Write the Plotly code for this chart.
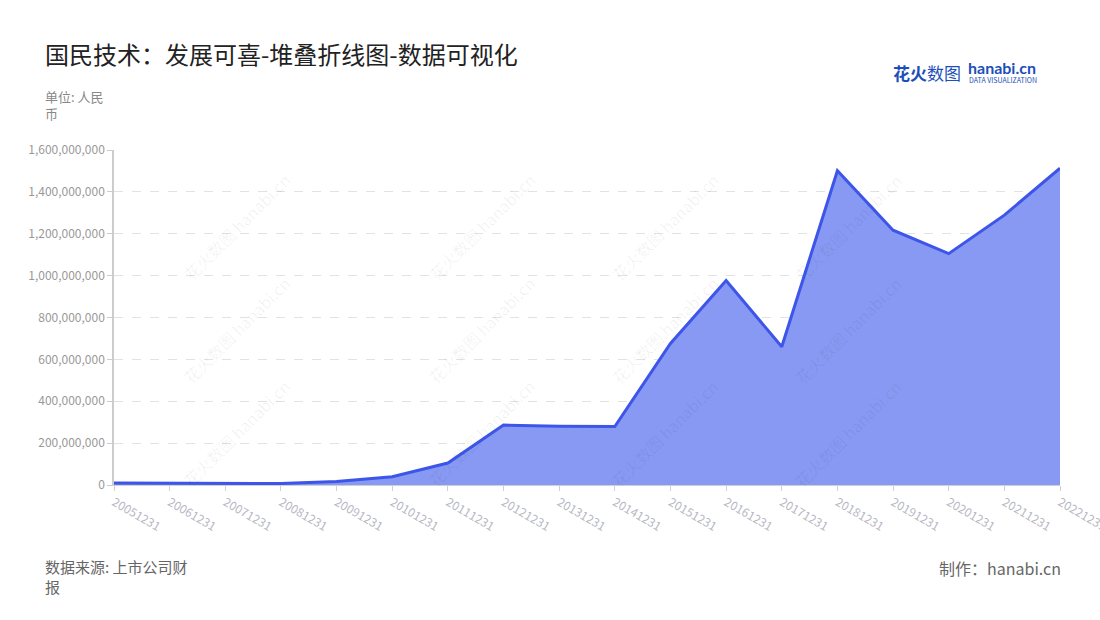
import plotly.graph_objects as go

dates = ["20051231", "20061231", "20071231", "20081231", "20091231", "20101231",
         "20111231", "20121231", "20131231", "20141231", "20151231", "20161231",
         "20171231", "20181231", "20191231", "20201231", "20211231", "20221231"]
values = [10e6, 10e6, 7e6, 7e6, 17e6, 39e6, 105e6, 286e6, 281e6, 279e6,
          676e6, 977e6, 660e6, 1501e6, 1217e6, 1105e6, 1289e6, 1513e6]
y_ticks = [0, 2e8, 4e8, 6e8, 8e8, 10e8, 12e8, 14e8, 16e8]

title = "国民技术：发展可喜-堆叠折线图-数据可视化"
unit = "单位: 人民<br>币"
source = "数据来源: 上市公司财<br>报"
maker = "制作：hanabi.cn"

FONT = "Noto Sans CJK SC"
L, R, T, B = 114, 1060, 150, 485
PW, PH = R - L, B - T


def px(x):
    return (x - L) / PW


def py(y):
    return (B - y) / PH


fig = go.Figure()
fig.add_trace(go.Scatter(
    x=dates, y=values, mode="lines", fill="tozeroy",
    line=dict(color="#3d55e8", width=3),
    fillcolor="#8799f2", hoverinfo="x+y",
))

fig.update_layout(
    width=1100, height=620,
    margin=dict(l=L, r=1100 - R, t=T, b=620 - B),
    paper_bgcolor="white", plot_bgcolor="white",
    font=dict(family=FONT),
    showlegend=False,
    xaxis=dict(
        type="category", range=[0, len(dates) - 1], automargin=False,
        tickangle=30, tickfont=dict(size=12, color="#b8b8c4"),
        showline=True, linecolor="#d0d0d0", linewidth=1,
        ticks="outside", tickcolor="#d0d0d0", ticklen=5,
        showgrid=False, zeroline=False,
    ),
    yaxis=dict(
        range=[0, 1.6e9], tickvals=y_ticks, tickformat=",", automargin=False,
        tickfont=dict(size=12, color="#999999"),
        showline=True, linecolor="#cccccc", linewidth=1.5,
        ticks="outside", tickcolor="#cccccc", ticklen=5,
        showgrid=True, gridcolor="#e2e2e2", griddash="dash", gridwidth=1,
        zeroline=False,
    ),
)

fig.add_annotation(text=title, xref="paper", yref="paper", x=px(43), y=py(54),
                   xanchor="left", yanchor="middle",
                   showarrow=False, font=dict(size=24, color="#222222"))
fig.add_annotation(text=unit, xref="paper", yref="paper", x=px(43), y=py(85),
                   xanchor="left", yanchor="top", align="left",
                   showarrow=False, font=dict(size=13, color="#888888"))
fig.add_annotation(text=source, xref="paper", yref="paper", x=px(43), y=py(554),
                   xanchor="left", yanchor="top", align="left",
                   showarrow=False, font=dict(size=15, color="#666666"))
fig.add_annotation(text=maker, xref="paper", yref="paper", x=px(1063), y=py(554),
                   xanchor="right", yanchor="top", align="right",
                   showarrow=False, font=dict(size=16, color="#666666"))

# logo
fig.add_annotation(text="<b>花火</b>数图", xref="paper", yref="paper", x=px(891),
                   y=py(72), xanchor="left", yanchor="middle",
                   showarrow=False, font=dict(size=17, color="#1d4fb8"))
fig.add_annotation(text="<b>hanabi.cn</b>", xref="paper", yref="paper", x=px(966),
                   y=py(68), xanchor="left", yanchor="middle",
                   showarrow=False, font=dict(size=16, color="#1d4fb8", family="Lato"))
fig.add_annotation(text="DATA VISUALIZATION", xref="paper", yref="paper", x=px(967),
                   y=py(80), xanchor="left", yanchor="middle",
                   showarrow=False, font=dict(size=7, color="#1d4fb8"))

# watermarks
for cx in [175, 420, 665, 910]:
    for cy in [165, 330, 495]:
        fig.add_annotation(text="花火数图 hanabi.cn", xref="paper", yref="paper",
                           x=px(cx), y=py(cy),
                           textangle=-45, showarrow=False,
                           font=dict(size=16, color="rgba(0,0,0,0.06)"))

fig.write_html("out.html", config={"displayModeBar": False},
               post_script="document.body.style.margin='0';")
